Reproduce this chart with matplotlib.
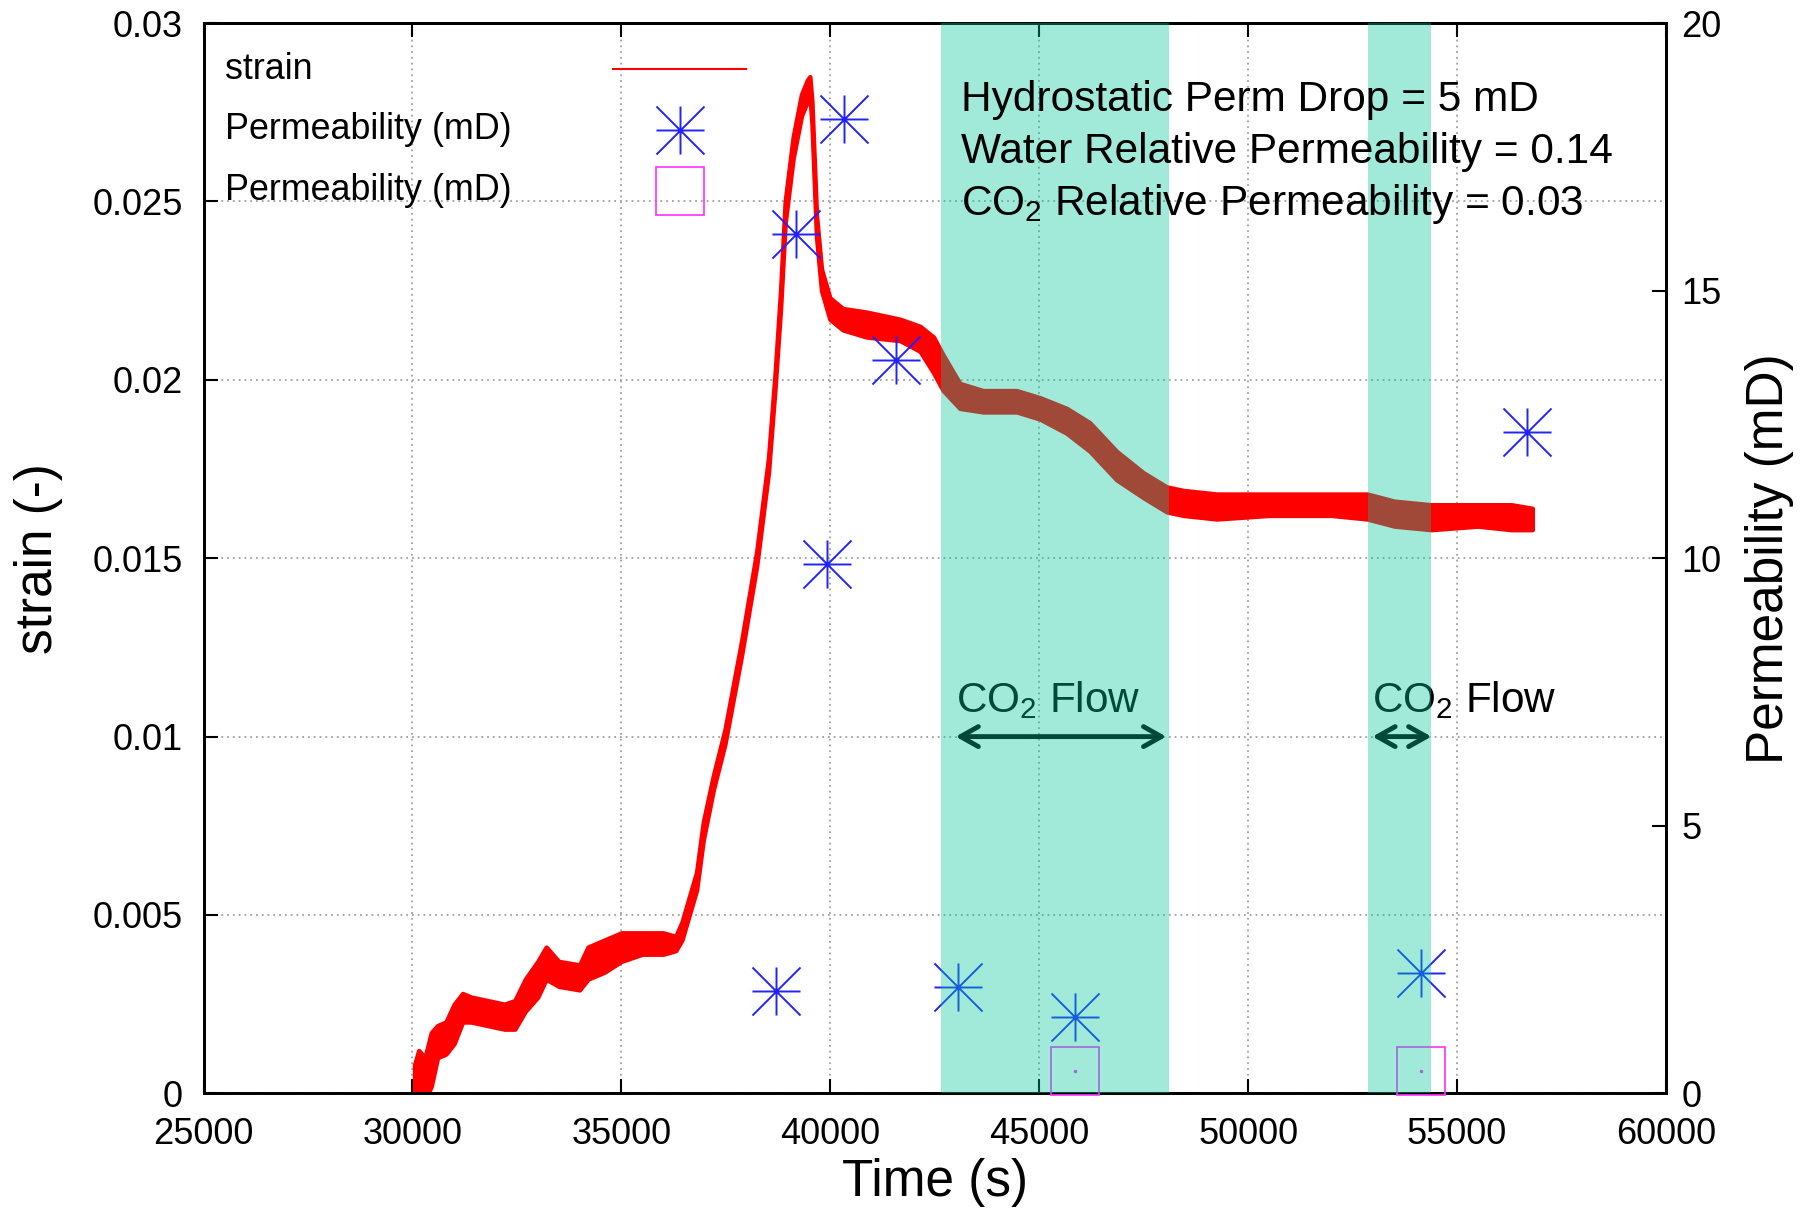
import matplotlib
matplotlib.use("Agg")
import matplotlib.pyplot as plt
from matplotlib.path import Path
from matplotlib.lines import Line2D
from matplotlib.ticker import FuncFormatter

plt.rcParams["font.family"] = ["Liberation Sans", "DejaVu Sans"]
plt.rcParams["mathtext.fontset"] = "custom"
plt.rcParams["mathtext.rm"] = "Liberation Sans"
plt.rcParams["mathtext.it"] = "Liberation Sans:italic"
plt.rcParams["mathtext.bf"] = "Liberation Sans:bold"

# strain record (s, lower / upper edge of the noisy trace)
time_s = [30050, 30150, 30300, 30450, 30600, 30800, 31000, 31200, 31400, 31800,
          32200, 32450, 32700, 33000, 33200, 33500, 34000, 34200, 34600, 35000,
          35500, 36000, 36300, 36450, 36550, 36800, 36960, 37200, 37480, 37880,
          38240, 38520, 38680, 38810, 38920, 39110, 39310, 39450, 39510, 39560,
          39670, 39790, 39990, 40300, 40870, 41670, 42150, 42470, 42700, 43100,
          43660, 44460, 45020, 45660, 46210, 46850, 47490, 48050, 48450, 49250,
          50500, 52000, 52850, 53500, 54380, 55500, 56300, 56800]
strain_lo = [0.0000, -0.0003, -0.0002, 0.0002, 0.0010, 0.0011, 0.0014, 0.0020, 0.0020, 0.0019,
             0.0018, 0.0018, 0.0023, 0.0027, 0.0032, 0.0030, 0.0029, 0.0032, 0.0034, 0.0037,
             0.0039, 0.0039, 0.0040, 0.0043, 0.0047, 0.0057, 0.0071, 0.0085, 0.0098, 0.0123,
             0.0148, 0.0174, 0.0198, 0.0220, 0.0244, 0.0262, 0.0274, 0.0278, 0.0280, 0.0272,
             0.0240, 0.0225, 0.0217, 0.0214, 0.0212, 0.0211, 0.0208, 0.0202, 0.0197, 0.0192,
             0.0191, 0.0191, 0.0189, 0.0185, 0.0180, 0.0172, 0.0167, 0.0163, 0.0162, 0.0161,
             0.0162, 0.0162, 0.0161, 0.0159, 0.0158, 0.0159, 0.0158, 0.0158]
strain_hi = [0.0008, 0.0012, 0.0010, 0.0017, 0.0019, 0.0020, 0.0025, 0.0028, 0.0027, 0.0026,
             0.0025, 0.0026, 0.0032, 0.0037, 0.0041, 0.0037, 0.0036, 0.0041, 0.0043, 0.0045,
             0.0045, 0.0045, 0.0044, 0.0048, 0.0052, 0.0062, 0.0076, 0.0089, 0.0102, 0.0127,
             0.0152, 0.0178, 0.0202, 0.0225, 0.0250, 0.0268, 0.0280, 0.0284, 0.0285, 0.0278,
             0.0246, 0.0231, 0.0223, 0.0220, 0.0219, 0.0217, 0.0215, 0.0212, 0.0207, 0.0199,
             0.0197, 0.0197, 0.0195, 0.0192, 0.0188, 0.0180, 0.0174, 0.0170, 0.0169, 0.0168,
             0.0168, 0.0168, 0.0168, 0.0166, 0.0165, 0.0165, 0.0165, 0.0164]

# permeability measurements (mD)
perm_time = [38700, 39180, 39910, 40320, 41580, 43056, 45850, 54130, 56681]
perm_md = [1.92, 16.05, 9.90, 18.21, 13.70, 1.99, 1.43, 2.25, 12.35]
perm2_time = [45850, 54130]
perm2_md = [0.41, 0.41]

# CO2 injection windows
co2_start = [42650, 52870]
co2_end = [48100, 54380]
arrow_start = [43000, 52975]
arrow_end = [48040, 54385]

notes = ["Hydrostatic Perm Drop = 5 mD",
         "Water Relative Permeability = 0.14",
         "CO$_2$ Relative Permeability = 0.03"]
legend_labels = ["strain", "Permeability (mD)", "Permeability (mD)"]

star = Path([(-1, 0), (1, 0), (0, -1), (0, 1), (-1, -1), (1, 1), (-1, 1), (1, -1)],
            [Path.MOVETO, Path.LINETO] * 4)
blue = "#2222ff"
magenta = "#ff30ff"
band = (0, 200 / 255, 157 / 255)

fig = plt.figure(figsize=(18.14, 12.10), dpi=100)
ax = fig.add_axes([0.1122, 0.0964, 0.8062, 0.8845])
ax2 = ax.twinx()

ax.fill_between(time_s, strain_lo, strain_hi, color="#ff0000", linewidth=3.2, zorder=2)

for s, e in zip(arrow_start, arrow_end):
    ax.text(s, 0.0107, "CO$_2$ Flow", fontsize=30.4, color="black", zorder=3)
    ax.annotate("", xy=(e, 0.01), xytext=(s, 0.01),
                arrowprops=dict(arrowstyle="<->,head_length=0.32,head_width=0.18",
                                lw=3.5, color="black", mutation_scale=40,
                                shrinkA=0, shrinkB=0), zorder=3)

ax2.plot(perm_time, perm_md, ls="none", marker=star, ms=34.6, mfc="none",
         mec=blue, mew=1.4, zorder=3)
ax2.plot(perm_time, perm_md, ls="none", marker="o", ms=3, color=blue, zorder=3)
ax2.plot(perm2_time, perm2_md, ls="none", marker="s", ms=34.6, mfc="none",
         mec=magenta, mew=1.2, zorder=3, clip_on=False)
ax2.plot(perm2_time, perm2_md, ls="none", marker="o", ms=1.5, color=magenta, zorder=3)

for s, e in zip(co2_start, co2_end):
    ax2.axvspan(s, e, color=band, alpha=0.37, lw=0, zorder=4)

for i, note in enumerate(notes):
    ax2.text(43140, 0.02753 - i * 0.00146, note, fontsize=30.5, va="baseline",
             transform=ax.transData, zorder=6)

# legend, gnuplot style: label on the left, key on the right
leg_y = [0.957, 0.9005, 0.8432]
for y, lab in zip(leg_y, legend_labels):
    ax2.text(0.015, y, lab, transform=ax2.transAxes, fontsize=25.8, va="center", zorder=7)
ax2.add_line(Line2D([0.280, 0.371], [leg_y[0]] * 2, transform=ax2.transAxes,
                    color="#ff0000", lw=1.5, zorder=7))
ax2.add_line(Line2D([0.326], [leg_y[1]], transform=ax2.transAxes, ls="none",
                    marker=star, ms=34.6, mfc="none", mec=blue, mew=1.4, zorder=7))
ax2.add_line(Line2D([0.326], [leg_y[1]], transform=ax2.transAxes, ls="none",
                    marker="o", ms=3, color=blue, zorder=7))
ax2.add_line(Line2D([0.326], [leg_y[2]], transform=ax2.transAxes, ls="none",
                    marker="s", ms=34.6, mfc="none", mec=magenta, mew=1.2, zorder=7))

ax.set_xlim(25000, 60000)
ax.set_ylim(0, 0.03)
ax2.set_ylim(0, 20)
ax.set_xticks(range(25000, 60001, 5000))
ax.set_yticks([0, 0.005, 0.01, 0.015, 0.02, 0.025, 0.03])
ax.yaxis.set_major_formatter(FuncFormatter(lambda v, p: f"{v:g}"))
ax2.set_yticks([0, 5, 10, 15, 20])

ax.grid(True, color="#a0a0a0", linestyle=(0, (1, 2.2)), linewidth=1.3)
ax.tick_params(axis="both", direction="in", length=10, width=1.5, labelsize=26)
ax.tick_params(axis="x", top=True, pad=17)
ax.tick_params(axis="y", pad=15)
ax2.tick_params(axis="y", direction="in", length=10, width=1.5, labelsize=26, pad=11)
for a in (ax, ax2):
    for sp in a.spines.values():
        sp.set_linewidth(2)

ax.set_xlabel("Time (s)", fontsize=37, va="center")
ax.xaxis.set_label_coords(0.5, -0.083)
ax.set_ylabel("strain (-)", fontsize=37, va="center")
ax.yaxis.set_label_coords(-0.113, 0.5)
ax2.set_ylabel("Permeability (mD)", fontsize=37, va="center")
ax2.yaxis.set_label_coords(1.071, 0.5)

fig.savefig("out.png", dpi=100)
